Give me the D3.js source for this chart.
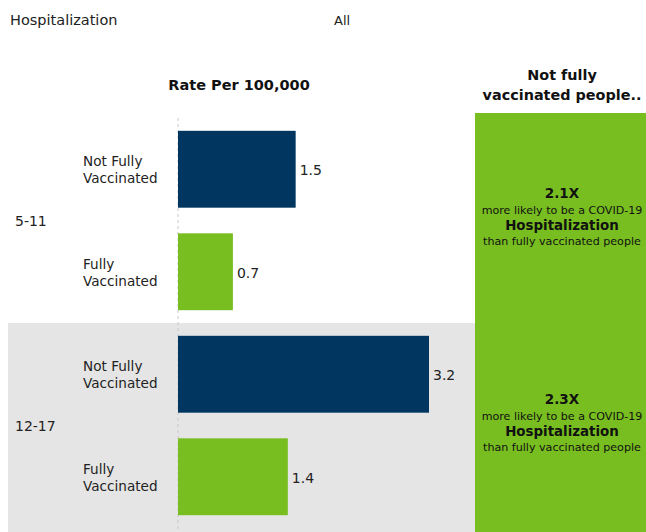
<!DOCTYPE html>
<html>
<head>
<meta charset="utf-8">
<script src="https://cdn.jsdelivr.net/npm/d3@7"></script>
<style>
  html, body { margin: 0; padding: 0; background: #fff; }
  svg { display: block; font-family: "DejaVu Sans", sans-serif; }
</style>
</head>
<body>
<svg id="chart" width="646" height="532"></svg>
<script>
// Hospitalization rate per 100,000 by age group and vaccination status
const ageGroups = ["5-11", "12-17"];
const statuses = ["Not Fully Vaccinated", "Fully Vaccinated"];
const rates = [
  [1.5, 0.7],   // 5-11
  [3.2, 1.4]    // 12-17
];
const ratioLabels = ["2.1X", "2.3X"];

const navy = "#00365f";
const green = "#78be20";

const svg = d3.select("#chart");
const W = 646, H = 532;

const rows = [];
ageGroups.forEach((g, gi) => statuses.forEach((s, si) => rows.push({ group: g, gi, status: s, si, value: rates[gi][si], key: g + "|" + s })));

const y = d3.scaleBand().domain(rows.map(r => r.key)).range([118, 528]).paddingInner(0.25).paddingOuter(0.125);
const x = d3.scaleLinear().domain([0, 3.2]).range([178, 429]);

const groupTop = gi => gi === 0 ? y.range()[0] - 5 : y(rows[2].key) - y.step() * y.paddingInner() / 2;
const groupBottom = gi => gi === 0 ? groupTop(1) : H;

// shaded band behind second age group
svg.append("rect")
  .attr("x", 8).attr("y", groupTop(1))
  .attr("width", 475 - 8).attr("height", H - groupTop(1))
  .attr("fill", "#e5e5e5");

// zero line
svg.append("line")
  .attr("x1", x(0)).attr("x2", x(0))
  .attr("y1", y.range()[0]).attr("y2", H)
  .attr("stroke", "#c8c8c8").attr("stroke-dasharray", "3,3");

// title row
svg.append("text").attr("x", 10).attr("y", 25).attr("font-size", 14.5).attr("fill", "#222").text("Hospitalization");
svg.append("text").attr("x", 334).attr("y", 25).attr("font-size", 13).attr("fill", "#222").text("All");

// column headers
svg.append("text").attr("x", 239).attr("y", 90).attr("text-anchor", "middle")
  .attr("font-size", 14.5).attr("font-weight", "bold").attr("fill", "#111").text("Rate Per 100,000");
const hdr = svg.append("text").attr("text-anchor", "middle").attr("font-size", 14.4).attr("font-weight", "bold").attr("fill", "#111");
hdr.append("tspan").attr("x", 562).attr("y", 80).text("Not fully");
hdr.append("tspan").attr("x", 562).attr("y", 100).text("vaccinated people..");

// bars
svg.selectAll("rect.bar").data(rows).join("rect")
  .attr("class", "bar")
  .attr("x", x(0))
  .attr("y", d => y(d.key))
  .attr("width", d => x(d.value) - x(0))
  .attr("height", y.bandwidth())
  .attr("fill", d => d.si === 0 ? navy : green);

// value labels
svg.selectAll("text.val").data(rows).join("text")
  .attr("class", "val")
  .attr("x", d => x(d.value) + 4)
  .attr("y", d => y(d.key) + y.bandwidth() / 2 + 6)
  .attr("font-size", 14).attr("fill", "#222")
  .text(d => d.value.toFixed(1));

// status labels
const st = svg.selectAll("text.status").data(rows).join("text")
  .attr("class", "status").attr("font-size", 13.6).attr("fill", "#222");
st.each(function (d) {
  const words = d.status.split(" ");
  const lines = words.length > 2 ? [words.slice(0, 2).join(" "), words.slice(2).join(" ")] : [words[0], words[1]];
  const cy = y(d.key) + y.bandwidth() / 2;
  d3.select(this).selectAll("tspan").data(lines).join("tspan")
    .attr("x", 83).attr("y", (l, i) => cy - 3 + i * 17).text(l => l);
});

// age group labels
svg.selectAll("text.group").data(ageGroups).join("text")
  .attr("class", "group")
  .attr("x", 15)
  .attr("y", (g, gi) => (y(rows[gi * 2].key) + y(rows[gi * 2 + 1].key) + y.bandwidth()) / 2 + 5)
  .attr("font-size", 14).attr("fill", "#222")
  .text(g => g);

// comparison panel
svg.append("rect").attr("x", 475).attr("y", 113).attr("width", W - 475).attr("height", H - 113).attr("fill", green);

ageGroups.forEach((g, gi) => {
  const top = gi === 0 ? 113 : groupTop(1);
  const cy = (top + groupBottom(gi)) / 2 - (gi === 0 ? 0 : 4);
  const t = svg.append("text").attr("text-anchor", "middle").attr("fill", "#111");
  t.append("tspan").attr("x", 562).attr("y", cy - 20).attr("font-size", 13.5).attr("font-weight", "bold").text(ratioLabels[gi]);
  t.append("tspan").attr("x", 562).attr("y", cy - 4).attr("font-size", 11.1).text("more likely to be a COVID-19");
  t.append("tspan").attr("x", 562).attr("y", cy + 12).attr("font-size", 13.4).attr("font-weight", "bold").text("Hospitalization");
  t.append("tspan").attr("x", 562).attr("y", cy + 27).attr("font-size", 11.1).text("than fully vaccinated people");
});
</script>
</body>
</html>
